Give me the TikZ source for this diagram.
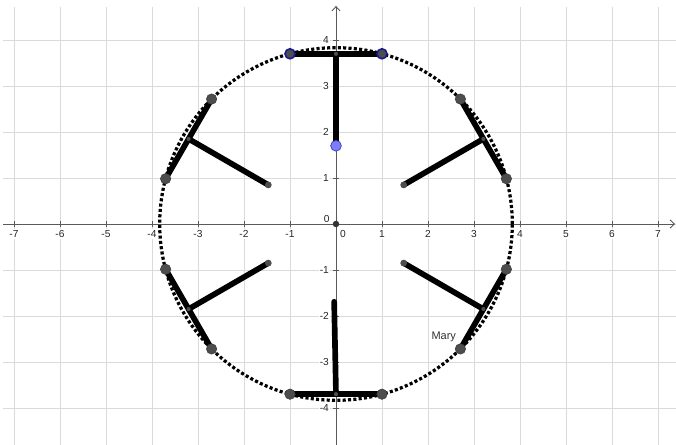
\documentclass[tikz,border=0pt]{standalone}
\usepackage{fontspec}
\setmainfont{Liberation Sans}
\usetikzlibrary{arrows.meta}
\definecolor{gridgray}{HTML}{DADADA}
\definecolor{axisgray}{HTML}{5A5A5A}
\definecolor{ptgray}{HTML}{4D4D4D}
\definecolor{ptring}{HTML}{1A1A8C}
\definecolor{ptblue}{HTML}{7D7DFF}
\definecolor{ptblueedge}{HTML}{4646B4}
\tikzset{
  gridline/.style={gridgray, line width=0.6pt},
  axisline/.style={axisgray, line width=0.6pt},
  tickmark/.style={axisgray, line width=0.5pt},
  ticklabel/.style={font=\fontsize{6.3}{7}\selectfont, text=black!85, fill=white, inner sep=0.8pt},
  dotcircle/.style={black, line width=2pt, dash pattern=on 1.9pt off 1.4pt},
  bar/.style={black, line width=3.5pt, line cap=round},
  bigpt/.style={circle, fill=ptgray, draw=black!75, line width=0.4pt, minimum size=6.4pt, inner sep=0pt},
  ringpt/.style={circle, fill=ptgray, draw=ptring, line width=1pt, minimum size=6.2pt, inner sep=0pt},
  midpt/.style={circle, fill=ptgray, minimum size=2.6pt, inner sep=0pt},
  endpt/.style={circle, fill=ptgray, minimum size=4.2pt, inner sep=0pt},
  bluept/.style={circle, fill=ptblue, draw=ptblueedge, line width=0.5pt, minimum size=6.6pt, inner sep=0pt},
  originpt/.style={circle, fill=black!80, minimum size=4pt, inner sep=0pt},
  namelabel/.style={font=\fontsize{6.8}{8}\selectfont, text=black!80, inner sep=0pt, anchor=west},
}
\begin{document}
\begin{tikzpicture}
\useasboundingbox (-7.3043,-4.8043) rectangle (7.3913,4.8696);
\fill[white] (-7.3043,-4.8043) rectangle (7.3913,4.8696);
% grid
\foreach \x in {-7,...,7} { \draw[gridline] (\x,-4.8043) -- (\x,4.72); }
\foreach \y in {-4,...,4} { \draw[gridline] (-7.24,\y) -- (7.3913,\y); }
% axes
\coordinate (xl) at (-7.24,0);
\coordinate (xr) at (7.37,0);
\coordinate (yb) at (0,-4.8043);
\coordinate (yt) at (0,4.74);
\draw[axisline, -{Straight Barb[length=2.6pt,width=5pt]}] (xl) -- (xr);
\draw[axisline, -{Straight Barb[length=2.6pt,width=5pt]}] (yb) -- (yt);
% ticks and labels
\foreach \x in {-7,...,-1,1,2,...,7} {
  \draw[tickmark] (\x,-0.06) -- (\x,0.06);
  \node[ticklabel] (xlab\x) at (\x,-0.22) {\x};
}
\foreach \y in {-4,...,-1,1,2,...,4} {
  \draw[tickmark] (-0.06,\y) -- (0.06,\y);
  \node[ticklabel, anchor=east] (ylab\y) at (-0.12,\y) {\y};
}
\node[ticklabel] (ylab0) at (-0.2,0.11) {0};
\node[ticklabel] (xlab0) at (0.15,-0.22) {0};
% dotted circle
\node[circle, minimum size=0pt, inner sep=0pt] (O) at (0,0) {};
\draw[dotcircle] (O.center) circle (3.8328);
% T shapes
\foreach \a/\n in {0/t,60/ul,120/ll,180/b,-120/lr,-60/ur} {
  \coordinate (\n-A) at (\a+105.124:3.8328);
  \coordinate (\n-B) at (\a+74.876:3.8328);
  \coordinate (\n-C) at (\a+90:3.7);
  \coordinate (\n-S) at (\a+90:1.7);
}
\foreach \n in {t,ul,ll,lr,ur} {
  \draw[bar] (\n-A) -- (\n-B);
  \draw[bar] (\n-C) -- (\n-S);
}
\coordinate (b-S2) at (-0.04,-1.69);
\draw[bar] (b-A) -- (b-B);
\draw[bar] (b-C) -- (b-S2);
% points
\node[ringpt] (t-A-pt) at (t-A) {};
\node[ringpt] (t-B-pt) at (t-B) {};
\node[bluept] (t-S-pt) at (t-S) {};
\foreach \n in {ul,ll,b,lr,ur} {
  \node[bigpt] (\n-A-pt) at (\n-A) {};
  \node[bigpt] (\n-B-pt) at (\n-B) {};
}
\foreach \n in {ul,ll,lr,ur} {
  \node[endpt] (\n-S-pt) at (\n-S) {};
}
\foreach \n in {t,ul,ll,b,lr,ur} {
  \node[midpt] (\n-C-pt) at (\n-C) {};
}
\node[originpt] (O-pt) at (O) {};
% label
\node[namelabel] (mary) at (2.07,-2.46) {Mary};
\end{tikzpicture}
\end{document}
